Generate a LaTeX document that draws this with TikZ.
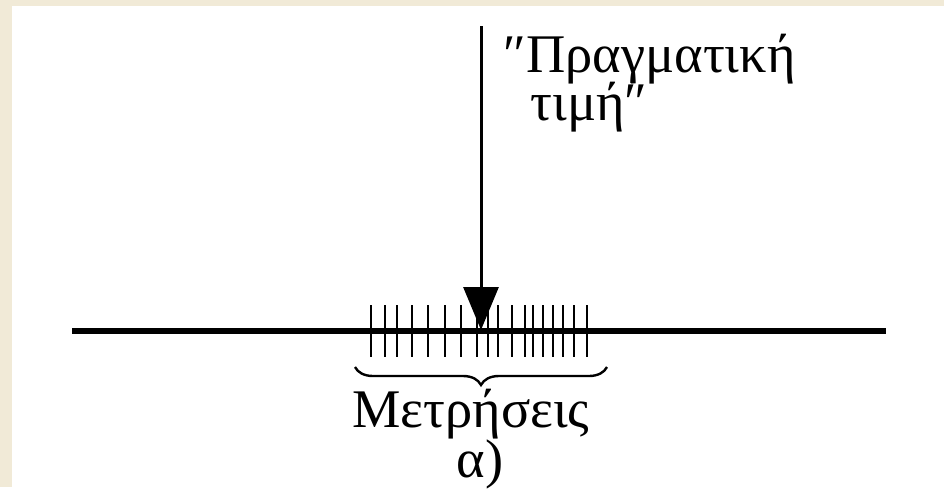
\documentclass[tikz,border=0pt]{standalone}
\usepackage{fontspec}
\setmainfont{Liberation Serif}
\usetikzlibrary{arrows.meta,decorations.pathreplacing}
\definecolor{cream}{HTML}{F1EAD7}

\begin{document}
\begin{tikzpicture}[x=0.25pt,y=-0.25pt,>={Triangle[width=8.75pt,length=10.75pt]},font=\fontsize{13.6}{12.5}\selectfont]
\tikzstyle{axis}=[line width=1.5pt]
\tikzstyle{tick}=[line width=0.65pt]
\tikzstyle{lbl}=[inner sep=0pt]
\fill[cream] (0,0) rectangle (944,487);
\fill[white] (12,6) rectangle (944,487);
% axis and measurements
\coordinate (l) at (72,331);
\coordinate (r) at (886,331);
\draw[axis] (l) -- (r);
\foreach \x in {371,385,397,412,428,445,461,477,488,498,512,525,533,543,553,563,574,587}
  \draw[tick] (\x,305) -- (\x,357);
% true value
\coordinate (top) at (481,26);
\coordinate (tip) at (481,330);
\draw[->,line width=0.75pt] (top) -- (tip);
\node[lbl,anchor=base west] (val1) at (503,72) {″Πραγματική};
\node[lbl,anchor=base west] (val2) at (530,120) {τιμή″};
% brace
\coordinate (bl) at (355,367);
\coordinate (br) at (607,367);
\draw[line width=0.6pt,decorate,decoration={brace,mirror,amplitude=4.5pt}] (bl) -- (br);
\node[lbl,anchor=base] (meas) at (471,427) {Μετρήσεις};
\node[lbl,anchor=base] (sub) at (480,477) {α)};
\end{tikzpicture}
\end{document}
